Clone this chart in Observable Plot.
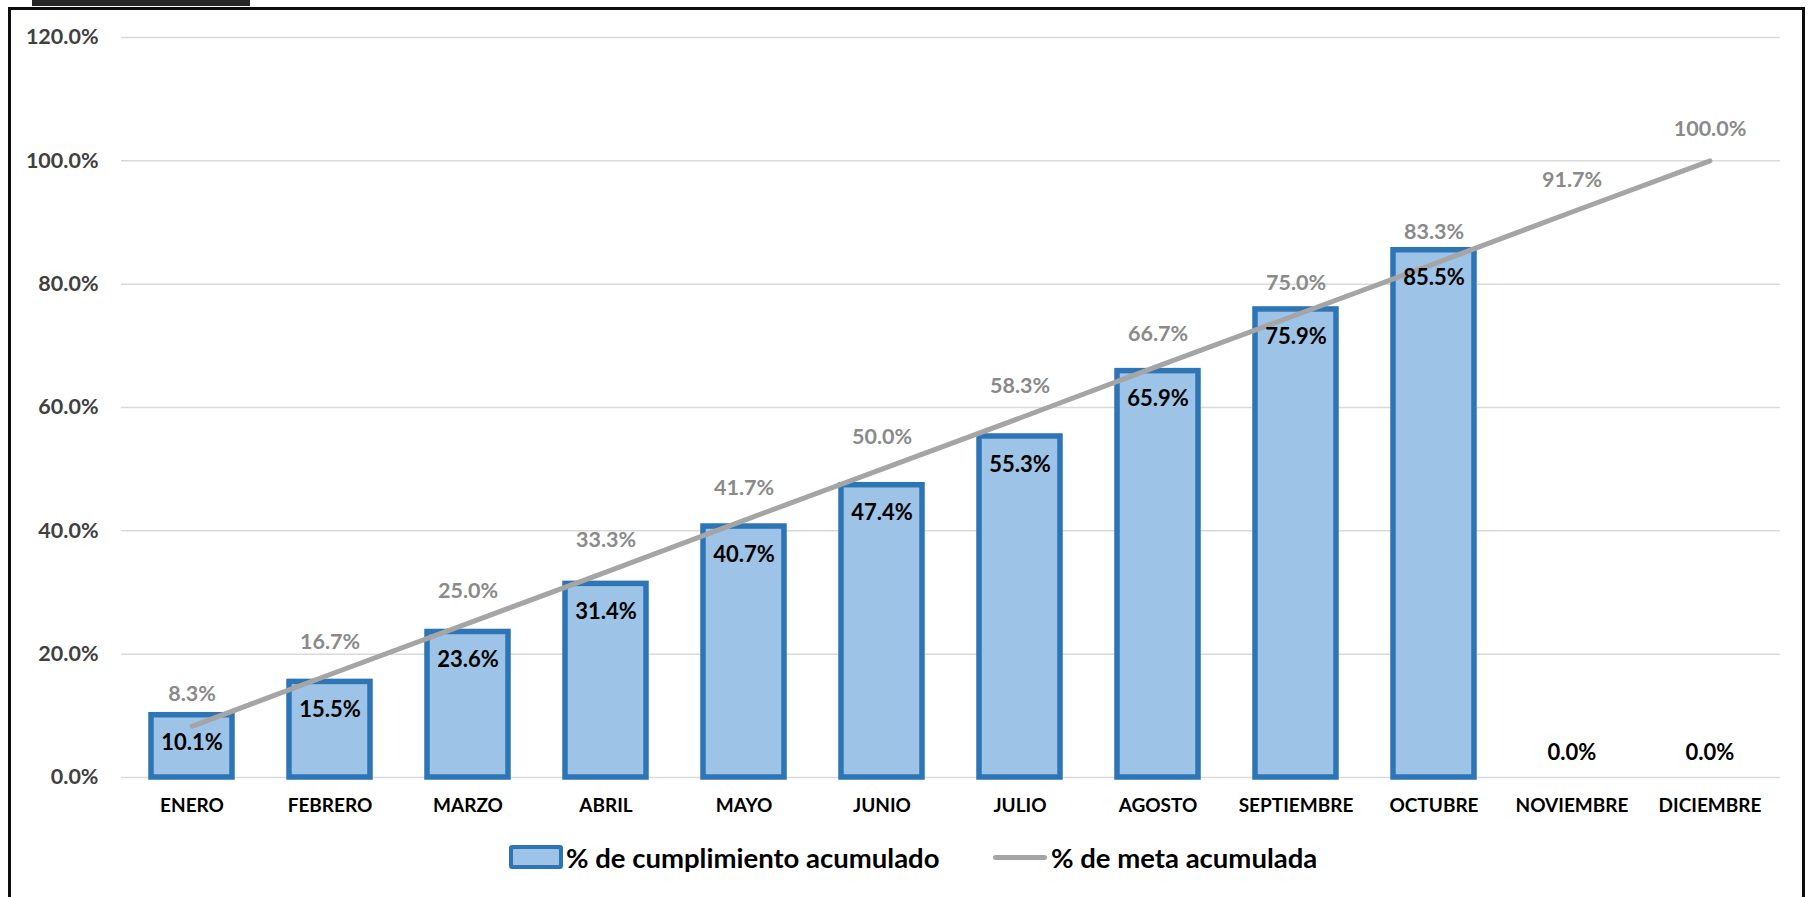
<!DOCTYPE html>
<html>
<head>
<meta charset="utf-8">
<script src="https://cdn.jsdelivr.net/npm/d3@7"></script>
<script src="https://cdn.jsdelivr.net/npm/@observablehq/plot@0.6"></script>
<style>
  html, body { margin: 0; padding: 0; background: #fff; }
  #wrap { position: relative; width: 1815px; height: 897px; overflow: hidden; font-family: Lato, "Open Sans", sans-serif; }
  #frame { position: absolute; left: 8px; top: 7px; width: 1797px; height: 1000px; border: 3px solid #0d0d0d; box-sizing: border-box; }
  #tab { position: absolute; left: 32px; top: 0; width: 218px; height: 6px; background: #262626; }
  #chart { position: absolute; left: 0; top: 0; }
  #legend { position: absolute; top: 842px; left: 0; width: 1815px; height: 30px; }
  .lg { position: absolute; top: 0; height: 30px; display: flex; align-items: center; font-weight: 700; font-size: 27.5px; color: #000; white-space: nowrap; }
  .sw-bar { width: 46px; height: 16px; background: #9DC3E6; border: 4px solid #2E75B6; border-radius: 3px; margin-right: 3px; box-sizing: content-box; }
  .sw-line { width: 54px; height: 5px; background: #A5A5A5; border-radius: 3px; margin-right: 4px; }
</style>
</head>
<body>
<div id="wrap">
  <div id="tab"></div>
  <div id="frame"></div>
  <div id="chart"></div>
  <div id="legend">
    <div class="lg" style="left:509px"><div class="sw-bar"></div>% de cumplimiento acumulado</div>
    <div class="lg" style="left:993px"><div class="sw-line"></div>% de meta acumulada</div>
  </div>
</div>
<script>
const months = ["ENERO","FEBRERO","MARZO","ABRIL","MAYO","JUNIO","JULIO","AGOSTO","SEPTIEMBRE","OCTUBRE","NOVIEMBRE","DICIEMBRE"];
const cumplimiento = [10.1,15.5,23.6,31.4,40.7,47.4,55.3,65.9,75.9,85.5,0.0,0.0];
const meta = [8.3,16.7,25.0,33.3,41.7,50.0,58.3,66.7,75.0,83.3,91.7,100.0];
const yTicks = [0,20,40,60,80,100,120];

const data = months.map((m, i) => ({month: m, cump: cumplimiento[i], meta: meta[i]}));
const fmt = d => d.toFixed(1) + "%";

const chart = Plot.plot({
  width: 1815,
  height: 830,
  marginLeft: 121,
  marginRight: 35,
  marginTop: 37,
  marginBottom: 53,
  style: {fontFamily: "Lato, 'Open Sans', sans-serif", background: "transparent"},
  x: {domain: months, paddingInner: 0.414, paddingOuter: 0.207, label: null},
  y: {domain: [0, 120], label: null},
  marks: [
    Plot.ruleY(yTicks, {stroke: "#d9d9d9", strokeWidth: 1.5}),
    Plot.axisY({ticks: yTicks, tickFormat: fmt, tickSize: 0, tickPadding: 23, fontSize: 21.5, fontWeight: 700, fill: "#404040", label: null}),
    Plot.axisX({tickSize: 0, tickPadding: 21, fontSize: 19, fontWeight: 700, fill: "#000", label: null}),
    Plot.barY(data.filter(d => d.cump > 0), {x: "month", y: "cump", fill: "#9DC3E6", stroke: "#2E75B6", strokeWidth: 5.5}),
    Plot.line(data, {x: "month", y: "meta", stroke: "#A5A5A5", strokeWidth: 5, strokeLinecap: "round", strokeLinejoin: "round"}),
    Plot.text(data.filter(d => d.cump > 0), {x: "month", y: "cump", text: d => fmt(d.cump), dy: 28, fontSize: 22, fontWeight: 700, fill: "#000"}),
    Plot.text(data.filter(d => d.cump === 0), {x: "month", y: "cump", text: d => fmt(d.cump), dy: -25, fontSize: 22, fontWeight: 700, fill: "#000"}),
    Plot.text(data, {x: "month", y: "meta", text: d => fmt(d.meta), dy: -32, fontSize: 21.5, fontWeight: 700, fill: "#8a8a8a"})
  ]
});
document.getElementById("chart").appendChild(chart);
</script>
</body>
</html>
